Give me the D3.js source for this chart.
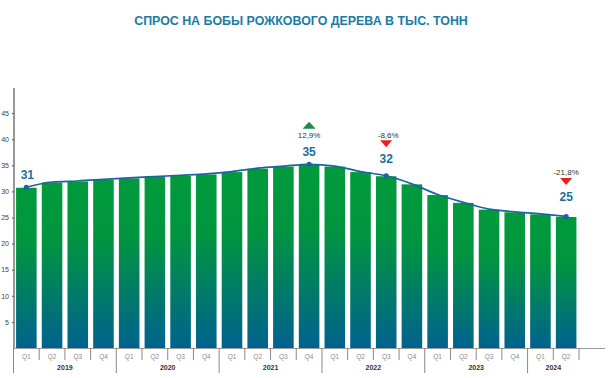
<!DOCTYPE html>
<html>
<head>
<meta charset="utf-8">
<script src="https://cdn.jsdelivr.net/npm/d3@7"></script>
<style>
  html, body { margin: 0; padding: 0; background: #fff; }
  svg { display: block; font-family: "Liberation Sans", Arial, sans-serif; }
</style>
</head>
<body>
<svg id="chart" width="608" height="378"></svg>
<script>
const years = ["2019", "2020", "2021", "2022", "2023", "2024"];
const quarters = ["Q1", "Q2", "Q3", "Q4",
  "Q1", "Q2", "Q3", "Q4",
  "Q1", "Q2", "Q3", "Q4",
  "Q1", "Q2", "Q3", "Q4",
  "Q1", "Q2", "Q3", "Q4",
  "Q1", "Q2"];
const quarterYears = ["2019", "2019", "2019", "2019",
  "2020", "2020", "2020", "2020",
  "2021", "2021", "2021", "2021",
  "2022", "2022", "2022", "2022",
  "2023", "2023", "2023", "2023",
  "2024", "2024"];
const demand = [30.7, 31.7, 31.9, 32.2, 32.5, 32.75, 33.0, 33.25,
  33.7, 34.35, 34.75, 35.1, 34.75, 33.7, 32.9, 31.35,
  29.3, 27.8, 26.5, 26.0, 25.6, 25.1];
const yTicks = [5, 10, 15, 20, 25, 30, 35, 40, 45];
const labelIndex = [0, 11, 14, 21];
const labelText = ["31", "35", "32", "25"];
const changeIndex = [11, 14, 21];
const changeText = ["12,9%", "-8,6%", "-21,8%"];
const changeDir = ["up", "down", "down"];

const svg = d3.select("#chart");
const baseY = 348, topY = 88;

const x = d3.scaleBand()
  .domain(d3.range(demand.length))
  .range([13.5, 579])
  .paddingInner(0.2)
  .paddingOuter(0.1);

const y = d3.scaleLinear().domain([0, 50]).range([baseY, topY - 1]);

// bar gradient, green on top fading to blue at the base
const defs = svg.append("defs");
const grad = defs.append("linearGradient")
  .attr("id", "barGrad")
  .attr("x1", 0).attr("y1", 0).attr("x2", 0).attr("y2", 1);
grad.append("stop").attr("offset", "0%").attr("stop-color", "#009a3c");
grad.append("stop").attr("offset", "35%").attr("stop-color", "#00953f");
grad.append("stop").attr("offset", "100%").attr("stop-color", "#00628f");

// title
svg.append("text")
  .attr("x", 301).attr("y", 25)
  .attr("text-anchor", "middle")
  .attr("font-size", "12.4px")
  .attr("font-weight", "bold")
  .attr("fill", "#1a7ca3")
  .text("СПРОС НА БОБЫ РОЖКОВОГО ДЕРЕВА В ТЫС. ТОНН");

// bars
svg.append("g").selectAll("rect")
  .data(demand)
  .join("rect")
  .attr("x", (d, i) => x(i))
  .attr("y", d => y(d))
  .attr("width", x.bandwidth())
  .attr("height", d => baseY - y(d))
  .attr("fill", "url(#barGrad)");

// y axis
const yAxis = d3.axisLeft(y).tickValues(yTicks).tickSize(2).tickPadding(3);
const yg = svg.append("g").attr("transform", "translate(14,0)").call(yAxis);
yg.select(".domain").remove();
yg.selectAll("line").attr("stroke", "#555");
yg.selectAll("text").attr("font-size", "7px").attr("fill", "#444").attr("font-family", "Liberation Sans, Arial, sans-serif");
svg.append("line")
  .attr("x1", 14).attr("x2", 14)
  .attr("y1", topY).attr("y2", baseY)
  .attr("stroke", "#555").attr("stroke-width", 1.2);

// x baseline
svg.append("line")
  .attr("x1", 14).attr("x2", 605)
  .attr("y1", baseY + 0.5).attr("y2", baseY + 0.5)
  .attr("stroke", "#999").attr("stroke-width", 1);

// quarter labels and separators
const step = x.step();
const bandStart = i => x(i) - x.paddingInner() * step / 2;
const xg = svg.append("g");
quarters.forEach((q, i) => {
  xg.append("text")
    .attr("x", x(i) + x.bandwidth() / 2)
    .attr("y", 358.5)
    .attr("text-anchor", "middle")
    .attr("font-size", "6.5px")
    .attr("fill", "#8a8a8a")
    .text(q);
  const isYearStart = i === 0 || quarterYears[i] !== quarterYears[i - 1];
  xg.append("line")
    .attr("x1", bandStart(i)).attr("x2", bandStart(i))
    .attr("y1", baseY).attr("y2", isYearStart ? 373 : 360)
    .attr("stroke", "#888").attr("stroke-width", 1);
});
const lastEdge = bandStart(quarters.length - 1) + step;
xg.append("line")
  .attr("x1", lastEdge).attr("x2", lastEdge)
  .attr("y1", baseY).attr("y2", 360)
  .attr("stroke", "#888").attr("stroke-width", 1);

// year labels centred under their quarters
years.forEach(yr => {
  const idx = d3.range(quarterYears.length).filter(i => quarterYears[i] === yr);
  const x0 = bandStart(idx[0]);
  const x1 = bandStart(idx[idx.length - 1]) + step;
  xg.append("text")
    .attr("x", (x0 + x1) / 2)
    .attr("y", 369.5)
    .attr("text-anchor", "middle")
    .attr("font-size", "7px")
    .attr("font-weight", "bold")
    .attr("fill", "#333")
    .text(yr);
});

// trend line
const cx = i => x(i) + x.bandwidth() / 2;
const line = d3.line()
  .x((d, i) => cx(i))
  .y(d => y(d) - 0.5)
  .curve(d3.curveMonotoneX);
svg.append("path")
  .datum(demand)
  .attr("d", line)
  .attr("fill", "none")
  .attr("stroke", "#1b659e")
  .attr("stroke-width", 1.7);

// points and value labels
const labelDy = [-9, -9, -13, -16];
labelIndex.forEach((idx, k) => {
  svg.append("circle")
    .attr("cx", cx(idx)).attr("cy", y(demand[idx]) - 0.5)
    .attr("r", 2.6)
    .attr("fill", "#1b659e");
  svg.append("text")
    .attr("x", cx(idx) + (k === 0 ? 1 : 0))
    .attr("y", y(demand[idx]) + labelDy[k])
    .attr("text-anchor", "middle")
    .attr("font-size", "12px")
    .attr("font-weight", "bold")
    .attr("fill", "#1a709e")
    .text(labelText[k]);
});

// change annotations
changeIndex.forEach((idx, k) => {
  const lblY = y(demand[idx]) + labelDy[labelIndex.indexOf(idx)] - 4;
  const c = cx(idx);
  if (changeDir[k] === "up") {
    const ty = lblY - 30;
    svg.append("path")
      .attr("d", `M${c - 6.5},${ty + 7} L${c + 6.5},${ty + 7} L${c},${ty} Z`)
      .attr("fill", "#1f8a4c");
    svg.append("text")
      .attr("x", c).attr("y", lblY - 13.5)
      .attr("text-anchor", "middle")
      .attr("font-size", "8px")
      .attr("fill", "#333")
      .text(changeText[k]);
  } else {
    const ty = lblY - 19;
    svg.append("path")
      .attr("d", `M${c - 6},${ty} L${c + 6},${ty} L${c},${ty + 7} Z`)
      .attr("fill", "#e8201e");
    svg.append("text")
      .attr("x", c + (k === 2 ? 0 : 2)).attr("y", lblY - 21.5)
      .attr("text-anchor", "middle")
      .attr("font-size", "8px")
      .attr("fill", "#333")
      .text(changeText[k]);
  }
});
</script>
</body>
</html>
